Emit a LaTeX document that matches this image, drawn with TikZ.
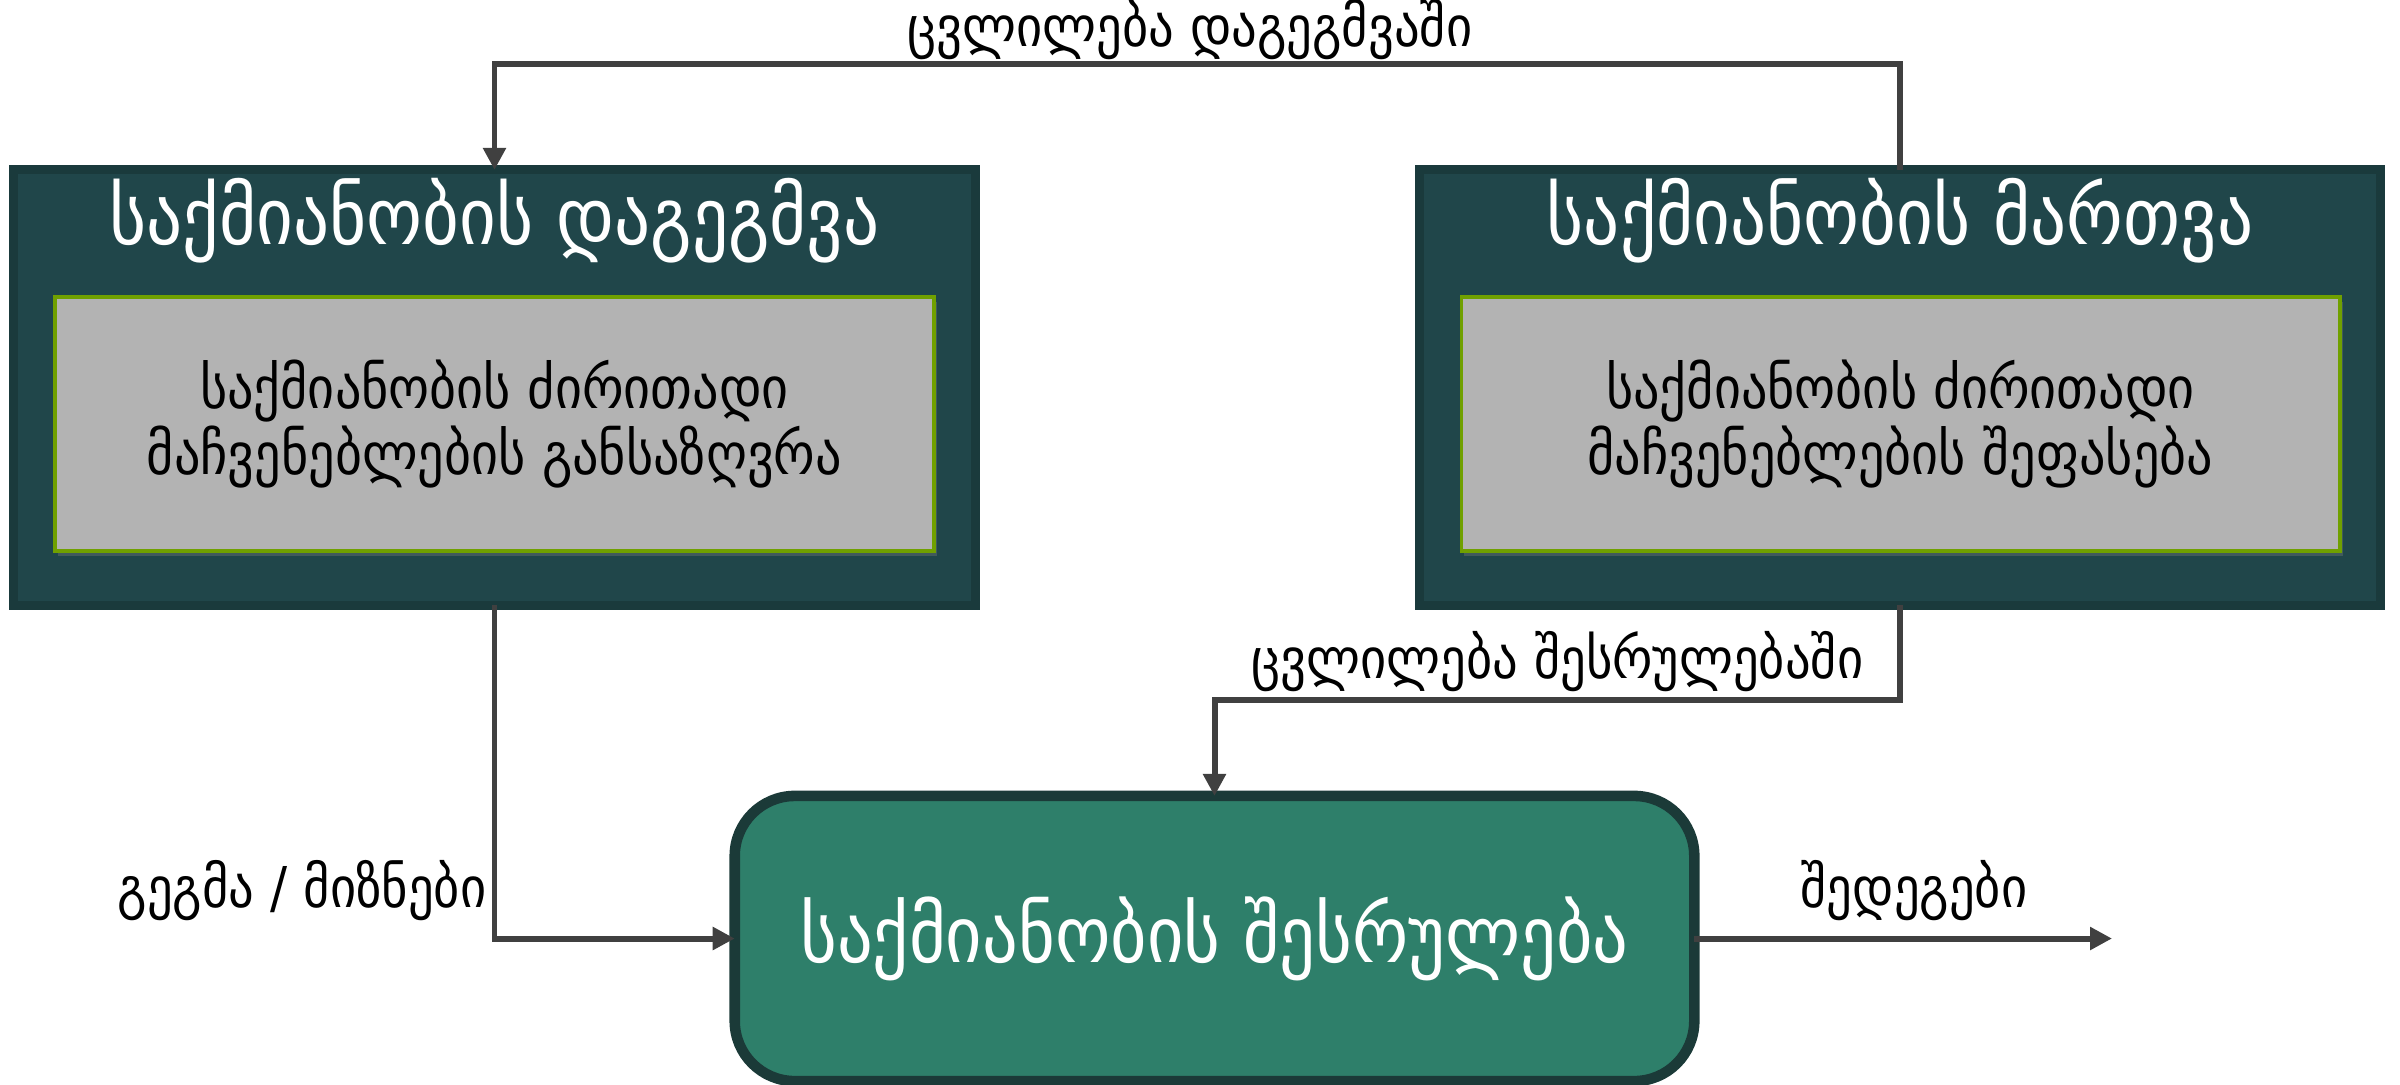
\documentclass[tikz,border=0pt]{standalone}
\usepackage{fontspec}
\usetikzlibrary{arrows.meta,shadows}
\newfontfamily\geo{DejaVu Sans Condensed}
\definecolor{panelfill}{HTML}{20464A}
\definecolor{paneledge}{HTML}{1A3A3C}
\definecolor{innerfill}{HTML}{B3B3B3}
\definecolor{inneredge}{HTML}{70A000}
\definecolor{runfill}{HTML}{2E7F6A}
\definecolor{runedge}{HTML}{1B3A38}
\definecolor{wire}{HTML}{404040}
\tikzset{
  panel/.style={draw=paneledge, line width=2.5pt, fill=panelfill, rectangle,
    minimum width=9.61cm, minimum height=4.35cm, inner sep=0pt, outer sep=0pt},
  innerbox/.style={draw=inneredge, line width=1pt, fill=innerfill, rectangle,
    minimum width=8.78cm, minimum height=2.54cm, inner sep=0pt, align=center,
    font=\geo\fontsize{16.5pt}{17pt}\selectfont,
    drop shadow={opacity=0.35, shadow xshift=0.03cm, shadow yshift=-0.05cm}},
  paneltitle/.style={text=white, inner sep=0pt, font=\geo\fontsize{22.5pt}{25pt}\selectfont},
  runbox/.style={draw=runedge, line width=3pt, fill=runfill, rectangle, rounded corners=0.6cm,
    minimum width=9.59cm, minimum height=2.85cm, inner sep=0pt, outer sep=0pt,
    text=white, font=\geo\fontsize{22.3pt}{25pt}\selectfont},
  flowlabel/.style={inner sep=0pt, text=black, font=\geo\fontsize{16pt}{20pt}\selectfont},
  conn/.style={draw=wire, line width=1.7pt,
    -{Triangle[length=0.22cm, width=0.22cm]}},
}
\begin{document}
\begin{tikzpicture}[x=0.01cm, y=-0.01cm]
\useasboundingbox (0,0) rectangle (2400,1084);

% planning panel
\node[panel] (plan) at (494.5,387.5) {};
\node[paneltitle] (plantitle) at (494.5,221) {საქმიანობის დაგეგმვა};
\node[innerbox] (planinner) at (494.5,424) {საქმიანობის ძირითადი\\მაჩვენებლების განსაზღვრა};

% management panel
\node[panel] (manage) at (1900,387.5) {};
\node[paneltitle] (managetitle) at (1900,221) {საქმიანობის მართვა};
\node[innerbox] (manageinner) at (1900.5,424) {საქმიანობის ძირითადი\\მაჩვენებლების შეფასება};

% execution
\node[runbox] (run) at (1214.5,938.5) {საქმიანობის შესრულება};

% routing points
\coordinate (topy) at (1200,64);
\coordinate (midy) at (1200,700);
\coordinate (outend) at (2112,938.5);

% connectors
\draw[conn] (manage.north) -- (manage.north |- topy) -- (plan.north |- topy) -- (plan.north);
\draw[conn] (plan.south) |- (run.west);
\draw[conn] (manage.south) -- (manage.south |- midy) -- (run.north |- midy) -- (run.north);
\draw[conn] (run.east) -- (outend);

% connector labels
\node[flowlabel] (lbltop) at (1190,30) {ცვლილება დაგეგმვაში};
\node[flowlabel, anchor=east] (lblmid) at (1864,662) {ცვლილება შესრულებაში};
\node[flowlabel, anchor=east] (lblplan) at (487,891) {გეგმა / მიზნები};
\node[flowlabel] (lblout) at (1914,891) {შედეგები};
\end{tikzpicture}
\end{document}
